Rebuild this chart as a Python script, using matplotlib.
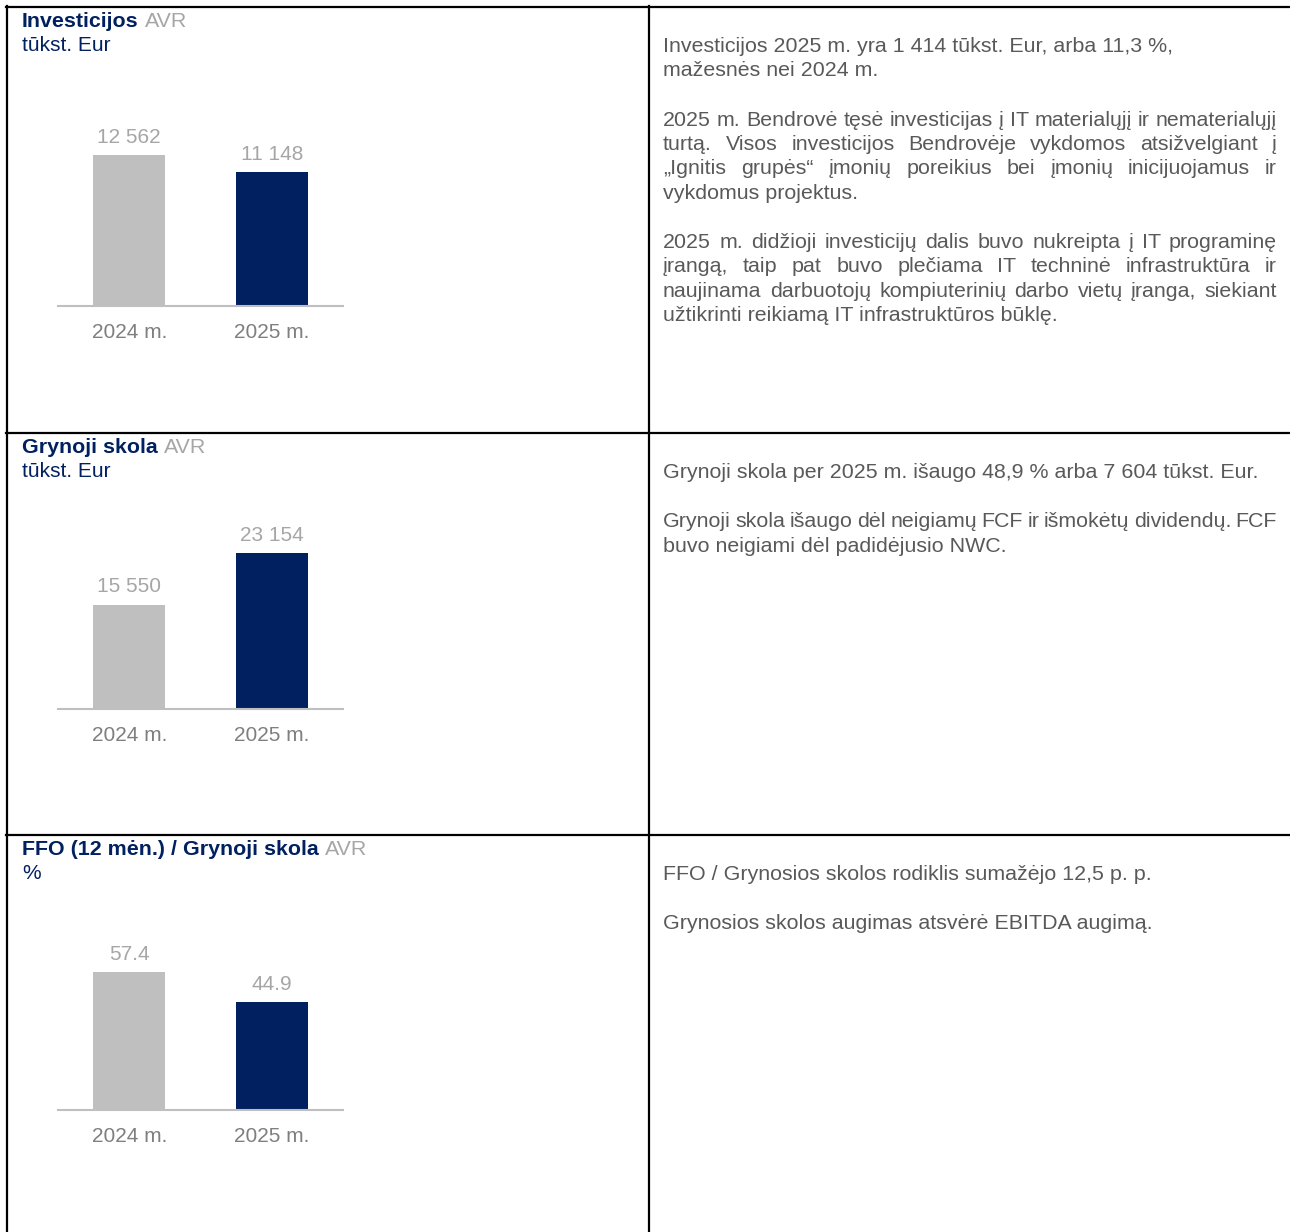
import matplotlib
matplotlib.use('Agg')
import matplotlib.pyplot as plt
from matplotlib.lines import Line2D

# figure size in pixels (dpi 100)
W, H = 1290, 1232
FONT = ['Liberation Sans', 'DejaVu Sans']
FS = 15        # chart labels
FS_TEXT = 15.4  # comment text and titles

NAVY = '#002060'
BAR_GREY = '#BFBFBF'
VALUE_GREY = '#A6A6A6'
CAT_GREY = '#7F7F7F'
TEXT_GREY = '#595959'

# data
years = ['2024 m.', '2025 m.']
investicijos = [12562, 11148]
grynoji_skola = [15550, 23154]
ffo_grynoji_skola = [57.4, 44.9]

titles = ['Investicijos', 'Grynoji skola', 'FFO (12 mėn.) / Grynoji skola']
units = ['tūkst. Eur', 'tūkst. Eur', '%']

# comment text per row: list of paragraphs, (lines, justified)
comments = [
    [
        (["Investicijos 2025 m. yra 1 414 tūkst. Eur, arba 11,3 %,",
          "mažesnės nei 2024 m."], False),
        (["2025 m. Bendrovė tęsė investicijas į IT materialųjį ir nematerialųjį",
          "turtą. Visos investicijos Bendrovėje vykdomos atsižvelgiant į",
          "„Ignitis grupės“ įmonių poreikius bei įmonių inicijuojamus ir",
          "vykdomus projektus."], True),
        (["2025 m. didžioji investicijų dalis buvo nukreipta į IT programinę",
          "įrangą, taip pat buvo plečiama IT techninė infrastruktūra ir",
          "naujinama darbuotojų kompiuterinių darbo vietų įranga, siekiant",
          "užtikrinti reikiamą IT infrastruktūros būklę."], True),
    ],
    [
        (["Grynoji skola per 2025 m. išaugo 48,9 % arba 7 604 tūkst. Eur."], False),
        (["Grynoji skola išaugo dėl neigiamų FCF ir išmokėtų dividendų. FCF",
          "buvo neigiami dėl padidėjusio NWC."], True),
    ],
    [
        (["FFO / Grynosios skolos rodiklis sumažėjo 12,5 p. p."], False),
        (["Grynosios skolos augimas atsvėrė EBITDA augimą."], False),
    ],
]


def fmt_thousands(v):
    return f"{v:,.0f}".replace(',', ' ')


def fmt_ratio(v):
    return f"{v:.1f}"


series = [investicijos, grynoji_skola, ffo_grynoji_skola]
formats = [fmt_thousands, fmt_thousands, fmt_ratio]
y_max = [14000, 25000, 70]

# layout (pixels from top)
row_top = [7, 433, 835]
baselines = [306, 709, 1110]
plot_h = 168
ax_left, ax_right = 58, 343
text_left, text_right = 663, 1277
line_h = 24.5


def fx(x):
    return x / W


def fy(y):
    return 1 - y / H


fig = plt.figure(figsize=(W / 100, H / 100), dpi=100)
renderer = fig.canvas.get_renderer()


def text_width(s, size=FS_TEXT, **kw):
    t = fig.text(0, 0, s, fontsize=size, family=FONT, **kw)
    w = t.get_window_extent(renderer).width
    t.remove()
    return w


# table borders
lw = 1.6
fig.add_artist(Line2D([fx(7), fx(7)], [fy(6), fy(H)], color='k', lw=lw))
fig.add_artist(Line2D([fx(649), fx(649)], [fy(6), fy(H)], color='k', lw=lw))
for y in row_top:
    fig.add_artist(Line2D([fx(6), fx(W)], [fy(y), fy(y)], color='k', lw=lw))

for i in range(3):
    off = row_top[i] - row_top[0]

    # title and unit
    fig.text(fx(22), fy(27 + off), titles[i], fontsize=FS_TEXT, family=FONT,
             fontweight='bold', color=NAVY, va='baseline')
    w_title = text_width(titles[i], fontweight='bold')
    fig.text(fx(22) + (w_title + text_width(' ')) / W, fy(27 + off), 'AVR',
             fontsize=FS_TEXT, family=FONT, color=VALUE_GREY, va='baseline')
    fig.text(fx(22), fy(51 + off), units[i], fontsize=FS, family=FONT,
             color=NAVY, va='baseline')

    # bar chart
    ax = fig.add_axes([fx(ax_left), fy(baselines[i]),
                       (ax_right - ax_left) / W, plot_h / H])
    vals = series[i]
    x = range(len(years))
    ax.bar(x, vals, width=0.505, color=[BAR_GREY, NAVY])
    ax.set_xlim(-0.5, len(years) - 0.5)
    ax.set_ylim(0, y_max[i])
    for xi, v in zip(x, vals):
        ax.annotate(formats[i](v), (xi, v), xytext=(0, 9),
                    textcoords='offset points', ha='center', va='baseline',
                    fontsize=FS, family=FONT, color=VALUE_GREY)
    ax.set_xticks(list(x))
    ax.set_xticklabels(years, fontsize=FS, family=FONT, color=CAT_GREY)
    ax.tick_params(axis='x', length=0, pad=12.5)
    ax.set_yticks([])
    for side in ['top', 'left', 'right']:
        ax.spines[side].set_visible(False)
    ax.spines['bottom'].set_color(BAR_GREY)
    ax.spines['bottom'].set_linewidth(1.5)
    ax.patch.set_alpha(0)

    # comment text, line by line
    y = 52 + off
    for lines, justified in comments[i]:
        for k, line in enumerate(lines):
            last = k == len(lines) - 1
            if justified and not last:
                words = line.split(' ')
                widths = [text_width(wd) for wd in words]
                gap = (text_right - text_left - sum(widths)) / (len(words) - 1)
                xpos = text_left
                for wd, wdw in zip(words, widths):
                    fig.text(fx(xpos), fy(y), wd, fontsize=FS_TEXT, family=FONT,
                             color=TEXT_GREY, va='baseline')
                    xpos += wdw + gap
            else:
                fig.text(fx(text_left), fy(y), line, fontsize=FS_TEXT,
                         family=FONT, color=TEXT_GREY, va='baseline')
            y += line_h
        y += line_h

fig.savefig('out.png', dpi=100)
